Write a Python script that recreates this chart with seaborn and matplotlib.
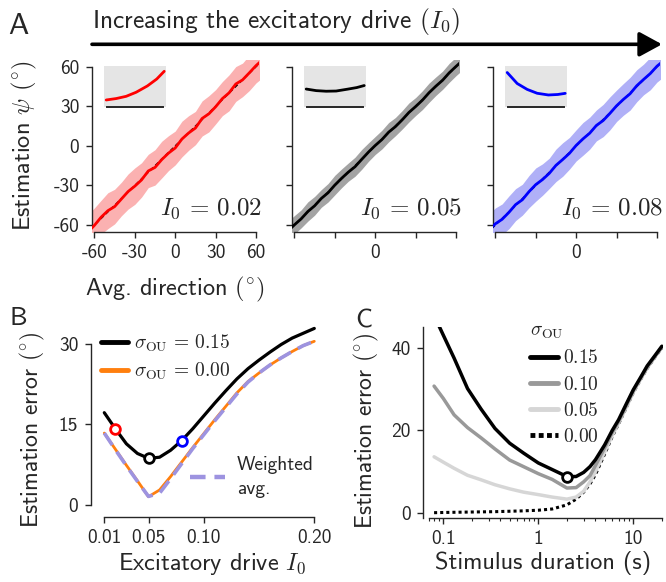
import numpy as np
import pandas as pd
import matplotlib
matplotlib.use("Agg")
import matplotlib.pyplot as plt
import seaborn as sns
from matplotlib.lines import Line2D
from matplotlib.ticker import LogLocator, NullFormatter

# ---------------- data ----------------
# Panel A: estimation vs. average direction
avg_direction = [-65, -60, -55, -50, -45, -40, -35, -30, -25, -20, -15, -10, -5, 0,
                 5, 10, 15, 20, 25, 30, 35, 40, 45, 50, 55, 60, 65]
est_I002 = [-65.5, -60.2, -54.0, -49.1, -46.0, -40.3, -34.6, -30.5, -25.8, -19.0, -16.3,
            -10.4, -5.5, -1.6, 5.2, 9.8, 13.5, 20.8, 24.3, 29.6, 35.8, 40.2, 46.9, 50.0,
            55.3, 60.8, 65.4]
sd_I002 = [13.5, 13.2, 12.8, 13.6, 13.1, 12.7, 13.3, 13.8, 13.0, 12.6, 13.4, 13.9, 13.2,
           12.8, 13.5, 13.1, 12.6, 13.3, 13.7, 13.0, 12.9, 13.6, 13.2, 12.7, 13.4, 13.1, 13.5]
est_I005 = [-64.6, -59.8, -55.3, -49.7, -45.4, -39.8, -35.5, -29.7, -24.6, -19.9, -15.8,
            -10.2, -4.7, 0.3, 4.8, 10.4, 14.6, 19.7, 25.3, 29.8, 34.6, 40.3, 45.2, 49.7,
            55.4, 60.2, 64.8]
sd_I005 = [7.2, 7.0, 6.8, 7.3, 7.1, 6.7, 7.0, 7.4, 7.1, 6.9, 7.2, 7.5, 7.0, 6.8, 7.1, 7.3,
           6.9, 7.0, 7.2, 6.8, 7.1, 7.3, 7.0, 6.9, 7.2, 7.0, 7.1]
est_I008 = [-63.8, -59.0, -55.6, -50.4, -44.5, -40.8, -34.6, -29.3, -25.5, -20.8, -14.7,
            -10.3, -5.6, 0.4, 5.3, 9.6, 15.5, 19.2, 24.6, 30.4, 35.2, 39.5, 45.6, 50.3,
            54.8, 60.4, 64.6]
sd_I008 = [12.3, 12.0, 11.6, 12.4, 12.1, 11.7, 12.2, 12.6, 11.9, 11.5, 12.3, 12.7, 12.0,
           11.8, 12.4, 12.1, 11.7, 12.2, 12.5, 11.9, 12.0, 12.4, 12.1, 11.6, 12.3, 12.0, 12.2]
dir_ticks = [-60, -30, 0, 30, 60]
dir_ticklabels = ["-60", "-30", "0", "30", "60"]
I0_labels = ["0.02", "0.05", "0.08"]

# Panel A insets (normalised curves)
inset_x = [0.04, 0.2, 0.36, 0.52, 0.7, 0.85, 0.97]
inset_I002 = [0.165, 0.20, 0.255, 0.355, 0.51, 0.68, 0.87]
inset_I005 = [0.434, 0.395, 0.38, 0.385, 0.43, 0.47, 0.52]
inset_I008 = [0.84, 0.57, 0.425, 0.33, 0.288, 0.30, 0.328]

# Panel B: estimation error vs excitatory drive
drive_I0 = [0.01, 0.02, 0.03, 0.04, 0.05, 0.06, 0.07, 0.08, 0.09, 0.10, 0.11, 0.12, 0.13,
            0.14, 0.15, 0.16, 0.17, 0.18, 0.19, 0.20]
err_sigma015 = [17.2, 14.2, 11.4, 9.6, 8.7, 8.9, 10.2, 12.0, 14.2, 16.6, 19.0, 21.3, 23.5,
                25.4, 27.0, 28.5, 29.9, 31.1, 32.0, 32.9]
err_sigma000 = [13.4, 10.4, 7.4, 4.5, 1.55, 2.8, 5.3, 8.0, 10.7, 13.3, 15.9, 18.4, 20.9,
                23.0, 24.6, 26.1, 27.4, 28.6, 29.7, 30.5]
err_weighted = [13.4, 10.3, 7.3, 4.4, 1.6, 2.2, 4.9, 7.7, 10.5, 13.1, 15.7, 18.2, 20.7,
                22.9, 24.6, 26.1, 27.4, 28.6, 29.7, 30.5]
marker_I0 = [0.02, 0.05, 0.08]
marker_err = [14.2, 8.7, 12.0]
marker_colors = ["red", "black", "blue"]
drive_ticks = [0.01, 0.05, 0.10, 0.20]
drive_ticklabels = ["0.01", "0.05", "0.10", "0.20"]

# Panel C: estimation error vs stimulus duration
duration = [0.08, 0.1, 0.13, 0.18, 0.25, 0.35, 0.5, 0.7, 1.0, 1.4, 2.0, 2.5, 3.0, 3.5, 4.0,
            5.0, 6.0, 7.0, 8.5, 10, 12, 14, 17, 20]
err_dur_015 = [48.0, 43.2, 37.6, 30.2, 25.2, 20.5, 16.9, 14.5, 12.1, 10.5, 8.8, 8.8, 9.8,
               11.2, 12.9, 16.5, 20.0, 22.6, 26.6, 29.9, 33.0, 35.7, 38.3, 40.5]
err_dur_010 = [30.8, 27.8, 23.8, 20.7, 18.2, 15.5, 12.8, 11.2, 9.5, 8.1, 6.0, 6.1, 7.5,
               9.0, 11.5, 15.8, 19.5, 22.2, 26.2, 29.6, 32.8, 35.4, 38.1, 40.3]
err_dur_005 = [13.6, 12.3, 10.8, 9.1, 8.0, 6.8, 5.8, 5.0, 4.4, 3.8, 3.3, 3.8, 5.2, 7.5,
               10.0, 14.8, 18.8, 21.8, 25.8, 29.3, 32.6, 35.2, 38.0, 40.2]
err_dur_000 = [0.0, 0.05, 0.1, 0.15, 0.2, 0.25, 0.35, 0.45, 0.6, 0.9, 1.9, 3.3, 5.0, 7.0,
               9.3, 14.3, 18.5, 21.6, 25.7, 29.2, 32.5, 35.1, 37.9, 40.1]
sigma_labels = ["0.15", "0.10", "0.05", "0.00"]
marker_dur = [2.0]
marker_dur_err = [8.8]

# ---------------- style ----------------
sns.set_style("ticks")
plt.rcParams["font.family"] = ["cmss10", "DejaVu Sans"]
plt.rcParams["mathtext.fontset"] = "cm"
plt.rcParams["axes.unicode_minus"] = False
plt.rcParams["axes.formatter.use_mathtext"] = True
plt.rcParams["axes.linewidth"] = 1.0
plt.rcParams["xtick.major.width"] = 1.0
plt.rcParams["ytick.major.width"] = 1.0
plt.rcParams["xtick.major.size"] = 4
plt.rcParams["ytick.major.size"] = 4
plt.rcParams["xtick.minor.size"] = 2.5
plt.rcParams["xtick.minor.width"] = 0.8
plt.rcParams["xtick.major.pad"] = 5
plt.rcParams["ytick.major.pad"] = 5

W, H = 666, 582
fig = plt.figure(figsize=(W / 100, H / 100), dpi=100)


def box(l, t, r, b):
    return [l / W, 1 - b / H, (r - l) / W, (b - t) / H]


TICK_FS = 14
LABEL_FS = 17.5

# ---------------- panel A ----------------
a_lefts = [91.7, 291.7, 492.7]
a_est = [est_I002, est_I005, est_I008]
a_sd = [sd_I002, sd_I005, sd_I008]
a_line = ["#ff0000", "#000000", "#0000ff"]
a_band = ["#fbb1b1", "#a3a3a3", "#b0b0f7"]
a_inset = [inset_I002, inset_I005, inset_I008]

for i in range(3):
    ax = fig.add_axes(box(a_lefts[i], 60.1, a_lefts[i] + 167, 231.7))
    est = np.array(a_est[i])
    sd = np.array(a_sd[i])
    ax.fill_between(avg_direction, est - sd, est + sd, color=a_band[i], lw=0, zorder=1)
    ax.plot([-70, 70], [-70, 70], color="k", lw=1.0, ls=(0, (3, 2)), zorder=2)
    sns.lineplot(x=avg_direction, y=a_est[i], ax=ax, color=a_line[i], lw=2.0,
                 estimator=None, sort=False, zorder=3)
    ax.set_xlim(-62, 62)
    ax.set_ylim(-65, 65)
    ax.set_yticks(dir_ticks)
    ax.set_xticks(dir_ticks)
    if i == 0:
        ax.set_yticklabels(dir_ticklabels, fontsize=TICK_FS)
        ax.set_xticklabels(dir_ticklabels, fontsize=TICK_FS)
    else:
        ax.set_yticklabels([])
        ax.set_xticklabels(["", "", "0", "", ""], fontsize=TICK_FS)
    sns.despine(ax=ax)
    ax.spines["left"].set_bounds(-60, 60)
    ax.spines["bottom"].set_bounds(-60, 60)
    ax.text(1.02, 0.1, r"$I_0\,=\,%s$" % I0_labels[i], transform=ax.transAxes,
            ha="right", va="baseline", fontsize=18)

    # inset
    l = a_lefts[i] + 12
    ins = fig.add_axes(box(l, 66, l + 62.4, 106.7))
    ins.set_facecolor("#e5e5e5")
    sns.lineplot(x=inset_x, y=a_inset[i], ax=ins, color=a_line[i], lw=2.0,
                 estimator=None, sort=False)
    ins.set_xlim(0, 1)
    ins.set_ylim(0, 1)
    ins.set_xticks([])
    ins.set_yticks([])
    ins.set_xlabel("")
    ins.set_ylabel("")
    for s in ["top", "right", "left"]:
        ins.spines[s].set_visible(False)
    ins.spines["bottom"].set_bounds(0.05, 0.95)
    ins.spines["bottom"].set_linewidth(1.4)

    if i == 0:
        ax.set_xlabel(r"Avg. direction $(^{\circ})$", fontsize=LABEL_FS)
        ax.xaxis.set_label_coords(0.5, (231.7 - 275) / 171.6)
        ax.set_ylabel(r"Estimation $\psi$ $(^{\circ})$", fontsize=LABEL_FS)
        ax.yaxis.set_label_coords((39 - 91.7) / 167, 0.5)

# title + arrow
fig.text(92 / W, 1 - 28 / H, r"Increasing the excitatory drive $(I_0)$",
         fontsize=18.3, ha="left", va="baseline")
fig.patches.append(matplotlib.patches.FancyArrowPatch(
    (92 / W, 1 - 44.3 / H), (662 / W, 1 - 44.3 / H), transform=fig.transFigure,
    arrowstyle="-|>,head_length=0.55,head_width=0.3", mutation_scale=25,
    lw=2.6, color="k", shrinkA=0, shrinkB=0))

fig.text(8 / W, 1 - 34 / H, "A", fontsize=22, ha="left", va="baseline")
fig.text(10 / W, 1 - 325 / H, "B", fontsize=19, ha="left", va="baseline")
fig.text(355 / W, 1 - 327 / H, "C", fontsize=19, ha="left", va="baseline")

# ---------------- panel B ----------------
axb = fig.add_axes(box(90.7, 325.2, 324.8, 516.7))
sns.lineplot(x=drive_I0, y=err_sigma015, ax=axb, color="black", lw=2.3,
             estimator=None, sort=False, zorder=3)
sns.lineplot(x=drive_I0, y=err_sigma000, ax=axb, color="#ff7f0e", lw=2.0,
             estimator=None, sort=False, zorder=3)
sns.lineplot(x=drive_I0, y=err_weighted, ax=axb, color="#9d93e0", lw=2.6,
             estimator=None, sort=False, zorder=4, dashes=False)
axb.lines[-1].set_dashes([4, 2.2])
for xm, ym, cm in zip(marker_I0, marker_err, marker_colors):
    axb.plot([xm], [ym], marker="o", ms=7, mfc="white", mec=cm, mew=2, zorder=5)
axb.set_xlim(-0.0023, 0.2095)
axb.set_ylim(-2.18, 33.5)
axb.set_xticks(drive_ticks)
axb.set_xticklabels(drive_ticklabels, fontsize=TICK_FS)
axb.set_yticks([0, 15, 30])
axb.set_yticklabels(["0", "15", "30"], fontsize=TICK_FS)
sns.despine(ax=axb)
axb.spines["left"].set_bounds(0, 30)
axb.spines["bottom"].set_bounds(0.01, 0.20)
axb.set_xlabel(r"Excitatory drive $I_0$", fontsize=LABEL_FS)
axb.xaxis.set_label_coords((212.5 - 90.7) / 234.1, (516.7 - 551) / 191.5)
axb.set_ylabel(r"Estimation error $(^{\circ})$", fontsize=17)
axb.yaxis.set_label_coords((47 - 90.7) / 234.1, (516.7 - 430) / 191.5)

hb = [Line2D([], [], color="black", lw=3.5), Line2D([], [], color="#ff7f0e", lw=3.5)]
legb = axb.legend(hb, [r"$\sigma_{\rm OU}\,=\,0.15$", r"$\sigma_{\rm OU}\,=\,0.00$"],
                  loc="upper left", bbox_to_anchor=((101 - 90.7) / 234.1, (516.7 - 333) / 191.5),
                  frameon=False, fontsize=14, handlelength=1.4, handletextpad=0.3,
                  labelspacing=0.35, borderpad=0, borderaxespad=0)
axb.add_artist(legb)
hw = [Line2D([], [], color="#9d93e0", lw=3.2, dashes=[3.5, 2.0])]
legw = axb.legend(hw, ["Weighted\navg."], loc="upper left",
                  bbox_to_anchor=((190 - 90.7) / 234.1, (516.7 - 456) / 191.5),
                  frameon=False, fontsize=14, handlelength=1.8, handletextpad=0.6,
                  borderpad=0, borderaxespad=0)
for t in legw.get_texts():
    t.set_linespacing(1.45)

# ---------------- panel C ----------------
axc = fig.add_axes(box(423.3, 326.7, 662.9, 517.5))
c_series = [err_dur_015, err_dur_010, err_dur_005, err_dur_000]
c_colors = ["#000000", "#999999", "#d6d6d6", "#000000"]
c_widths = [2.5, 2.5, 2.5, 2.2]
for k in [3, 2, 1, 0]:
    sns.lineplot(x=duration, y=c_series[k], ax=axc, color=c_colors[k], lw=c_widths[k],
                 estimator=None, sort=False, zorder=3 + (k == 0))
    if k == 3:
        axc.lines[-1].set_linestyle((0, (1, 1)))
axc.plot(marker_dur, marker_dur_err, marker="o", ms=7, mfc="white", mec="black",
         mew=2, zorder=6)
axc.set_xscale("log")
axc.set_xlim(0.0616, 20.5)
axc.set_ylim(-1.17, 45.25)
axc.set_xticks([0.1, 1, 10])
axc.set_xticklabels(["0.1", "1", "10"], fontsize=TICK_FS)
axc.xaxis.set_minor_locator(LogLocator(base=10, subs=np.arange(2, 10) * 1.0, numticks=20))
axc.xaxis.set_minor_formatter(NullFormatter())
axc.set_yticks([0, 20, 40])
axc.set_yticklabels(["0", "20", "40"], fontsize=TICK_FS)
sns.despine(ax=axc)
axc.spines["bottom"].set_bounds(0.07, 20)
axc.set_xlabel("Stimulus duration (s)", fontsize=LABEL_FS)
axc.xaxis.set_label_coords(0.4996, (517.5 - 551) / 190.8)
axc.set_ylabel(r"Estimation error $(^{\circ})$", fontsize=17)
axc.yaxis.set_label_coords((381 - 423.3) / 239.6, (517.5 - 431) / 190.8)

hc = [Line2D([], [], color=c_colors[0], lw=3.5),
      Line2D([], [], color=c_colors[1], lw=3.5),
      Line2D([], [], color=c_colors[2], lw=3.5),
      Line2D([], [], color=c_colors[3], lw=3.5, ls=(0, (1, 0.7)))]
legc = axc.legend(hc, [r"$%s$" % s for s in sigma_labels], title=r"$\sigma_{\rm OU}$",
                  loc="upper left", bbox_to_anchor=((530 - 423.3) / 239.6, (517.5 - 322) / 190.8),
                  frameon=False, fontsize=14, title_fontsize=14, handlelength=1.45,
                  handletextpad=0.25, labelspacing=0.42, borderpad=0, borderaxespad=0,
                  alignment="left")

fig.savefig("out.png", dpi=100)
